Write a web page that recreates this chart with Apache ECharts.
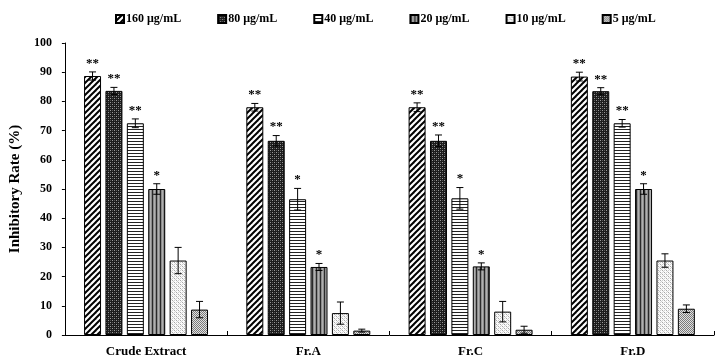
<!DOCTYPE html>
<html>
<head>
<meta charset="utf-8">
<script src="https://cdn.jsdelivr.net/npm/echarts@6/dist/echarts.min.js"></script>
<style>html,body{margin:0;padding:0;background:#fff}#c{width:715px;height:362px}</style>
</head>
<body>
<div id="c"></div>
<script>
const categories = ['Crude Extract', 'Fr.A', 'Fr.C', 'Fr.D'];
const seriesNames = ['160 μg/mL', '80 μg/mL', '40 μg/mL', '20 μg/mL', '10 μg/mL', '5 μg/mL'];
const v160 = [88.7, 78.0, 78.0, 88.5];
const v80  = [83.6, 66.5, 66.5, 83.5];
const v40  = [72.5, 46.5, 46.8, 72.5];
const v20  = [50.0, 23.3, 23.5, 50.0];
const v10  = [25.5, 7.5, 8.0, 25.5];
const v5   = [8.7, 1.5, 1.8, 9.0];
const e160 = [1.4, 1.3, 1.5, 1.5];
const e80  = [1.2, 1.8, 2.0, 1.2];
const e40  = [1.5, 3.7, 3.7, 1.3];
const e20  = [1.8, 1.2, 1.2, 1.8];
const e10  = [4.5, 3.8, 3.5, 2.3];
const e5   = [2.8, 0.5, 1.2, 1.3];
const s160 = ['**', '**', '**', '**'];
const s80  = ['**', '**', '**', '**'];
const s40  = ['**', '*', '*', '**'];
const s20  = ['*', '*', '*', '*'];
const s10  = ['', '', '', ''];
const s5   = ['', '', '', ''];
const yTicks = [0, 10, 20, 30, 40, 50, 60, 70, 80, 90, 100];

const values = [v160, v80, v40, v20, v10, v5];
const errors = [e160, e80, e40, e20, e10, e5];
const sigs = [s160, s80, s40, s20, s10, s5];

const FONT = '"Liberation Serif", "Times New Roman", serif';
const CAT_GAP = 0.236, BAR_GAP = 0.26;

function tile(w, h, draw) {
  const c = document.createElement('canvas');
  c.width = w; c.height = h;
  const g = c.getContext('2d');
  draw(g, w, h);
  return { image: c, repeat: 'repeat' };
}
function px(g, col, pts) { g.fillStyle = col; pts.forEach(p => g.fillRect(p[0], p[1], 1, 1)); }

const patterns = [
  tile(6, 6, (g, w, h) => {
    g.fillStyle = '#fff'; g.fillRect(0, 0, w, h);
    g.strokeStyle = '#000'; g.lineWidth = 2;
    for (let k = -1; k <= 1; k++) {
      g.beginPath(); g.moveTo(k * w - 1, h + 1); g.lineTo(k * w + w + 1, -1); g.stroke();
    }
  }),
  tile(4, 4, (g, w, h) => {
    g.fillStyle = '#1c1c1c'; g.fillRect(0, 0, w, h);
    px(g, '#9a9a9a', [[0, 0], [2, 2]]);
    px(g, '#555', [[2, 0], [0, 2]]);
  }),
  tile(3, 3, (g, w, h) => {
    g.fillStyle = '#fff'; g.fillRect(0, 0, w, h);
    g.fillStyle = '#222'; g.fillRect(0, 0, w, 1);
  }),
  tile(4, 4, (g, w, h) => {
    g.fillStyle = '#8c8c8c'; g.fillRect(0, 0, w, h);
    g.fillStyle = '#2a2a2a'; g.fillRect(0, 0, 1, h);
    g.fillStyle = '#b0b0b0'; g.fillRect(2, 0, 1, h);
  }),
  tile(4, 4, (g, w, h) => {
    g.fillStyle = '#fbfbfb'; g.fillRect(0, 0, w, h);
    px(g, '#a8a8a8', [[0, 0], [2, 2]]);
    px(g, '#d0d0d0', [[2, 0], [0, 2], [1, 1], [3, 3]]);
  }),
  tile(2, 2, (g, w, h) => {
    g.fillStyle = '#e0e0e0'; g.fillRect(0, 0, w, h);
    px(g, '#7a7a7a', [[0, 0], [1, 1]]);
  })
];

const barSeries = seriesNames.map((name, i) => ({
  name: name,
  type: 'bar',
  data: values[i],
  barGap: (BAR_GAP * 100) + '%',
  barCategoryGap: (CAT_GAP * 100) + '%',
  itemStyle: { color: patterns[i], borderColor: '#000', borderWidth: 1 },
  emphasis: { disabled: true },
  animation: false
}));

const errData = [];
for (let i = 0; i < 6; i++) for (let c = 0; c < 4; c++) errData.push([c, i, values[i][c], errors[i][c]]);

const errSeries = {
  type: 'custom',
  name: 'err',
  data: errData,
  encode: { x: 0, y: 2 },
  z: 10,
  animation: false,
  silent: true,
  renderItem: function (params, api) {
    const c = api.value(0), i = api.value(1), m = api.value(2), e = api.value(3);
    const band = api.size([1, 0])[0];
    const used = band * (1 - CAT_GAP);
    const bw = used / (6 + 5 * BAR_GAP);
    const cx = api.coord([c, 0])[0] - used / 2 + i * bw * (1 + BAR_GAP) + bw / 2;
    const yt = api.coord([c, m + e])[1];
    const yb = api.coord([c, Math.max(m - e, 0)])[1];
    const cap = 3.5;
    const st = { stroke: '#000', lineWidth: 1 };
    const children = [
      { type: 'line', shape: { x1: cx, y1: yt, x2: cx, y2: yb }, style: st },
      { type: 'line', shape: { x1: cx - cap, y1: yt, x2: cx + cap, y2: yt }, style: st },
      { type: 'line', shape: { x1: cx - cap, y1: yb, x2: cx + cap, y2: yb }, style: st }
    ];
    const s = sigs[i][c];
    if (s) children.push({
      type: 'text',
      style: { text: s, x: cx, y: yt - 2, align: 'center', verticalAlign: 'bottom',
        font: 'bold 13px ' + FONT, fill: '#000' }
    });
    return { type: 'group', children: children };
  }
};

const chart = echarts.init(document.getElementById('c'), null, { renderer: 'canvas' });
chart.setOption({
  animation: false,
  backgroundColor: '#fff',
  textStyle: { fontFamily: FONT },
  legend: {
    data: seriesNames,
    top: 8,
    left: 110,
    itemWidth: 8,
    itemHeight: 8,
    itemGap: 36,
    icon: 'rect',
    textStyle: { fontFamily: FONT, fontWeight: 'bold', fontSize: 12, color: '#000', padding: [0, 0, 0, -3] }
  },
  grid: { left: 62, right: 1, top: 43, bottom: 27, containLabel: false },
  xAxis: {
    type: 'category',
    data: categories,
    axisLine: { lineStyle: { color: '#000', width: 1 } },
    axisTick: { show: true, inside: true, length: 4, lineStyle: { color: '#000' } },
    axisLabel: { color: '#000', fontFamily: FONT, fontWeight: 'bold', fontSize: 13, margin: 10 }
  },
  yAxis: {
    type: 'value',
    min: yTicks[0],
    max: yTicks[yTicks.length - 1],
    interval: 10,
    name: 'Inhibitory Rate (%)',
    nameLocation: 'middle',
    nameGap: 40,
    nameTextStyle: { color: '#000', fontFamily: FONT, fontWeight: 'bold', fontSize: 15 },
    axisLine: { show: true, lineStyle: { color: '#000', width: 1 } },
    axisTick: { show: true, length: 3, lineStyle: { color: '#000' } },
    splitLine: { show: false },
    axisLabel: { color: '#000', fontFamily: FONT, fontWeight: 'bold', fontSize: 12, margin: 13 }
  },
  series: barSeries.concat([errSeries])
});
</script>
</body>
</html>
